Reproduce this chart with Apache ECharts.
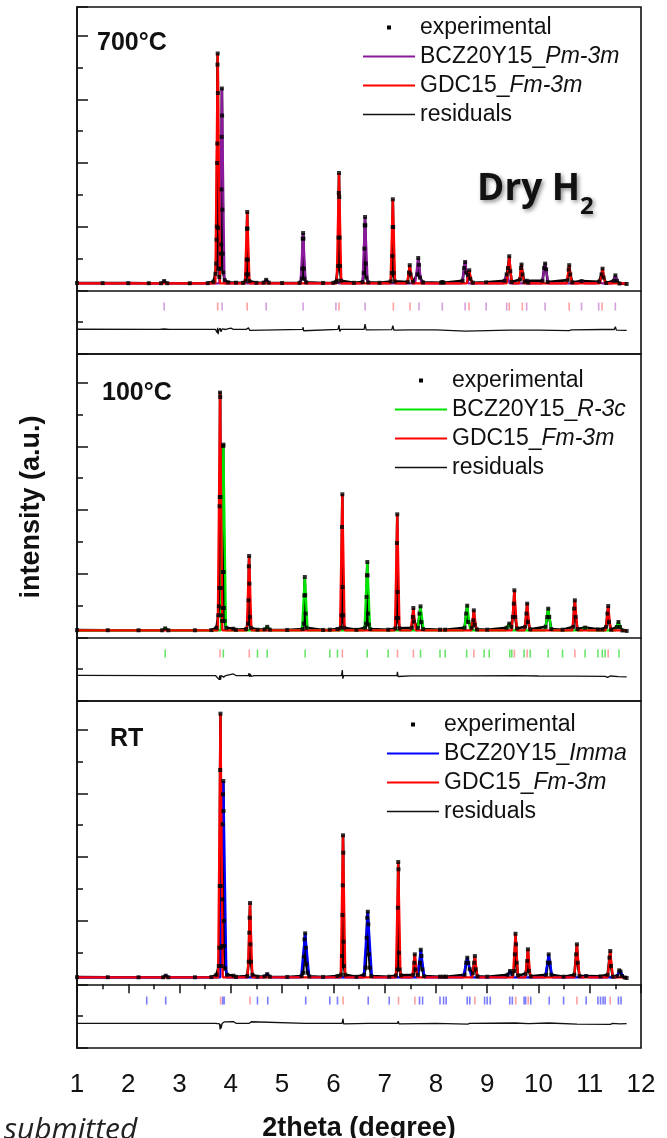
<!DOCTYPE html>
<html>
<head>
<meta charset="utf-8">
<script src="https://cdn.jsdelivr.net/npm/echarts@6/dist/echarts.min.js"></script>
<style>
  html, body { margin: 0; padding: 0; background: #fff; }
  #chart { width: 667px; height: 1138px; }
</style>
</head>
<body>
<div id="chart"></div>
<script>
// ---------- data (2theta in degrees, intensity in arbitrary units) ----------
const scanRange = [1.0, 11.72];
const background = 220;        // flat background level under the fitted phases
const reflectionRow = -510;    // level of the Bragg reflection markers

const xTicks = [1, 2, 3, 4, 5, 6, 7, 8, 9, 10, 11, 12];

const phaseNames = ['BCZ20Y15_Pm-3m', 'BCZ20Y15_R-3c', 'BCZ20Y15_Imma'];
const gdcName = 'GDC15_Fm-3m';
const panelLabels = ['700°C', '100°C', 'RT'];

// ---- 700 °C ----
const obs700 = [
  [1.00,228],[1.50,226],[2.00,225],[2.40,224],[2.64,224],[2.70,292],[2.76,224],[3.20,223],[3.55,226],[3.66,270],
  [3.700,520],[3.715,840],[3.722,1590],[3.728,2000],[3.733,4000],[3.737,4610],[3.740,7090],[3.744,7440],[3.748,6200],[3.752,1960],[3.760,681],
  [3.775,420],[3.795,680],[3.806,1150],[3.812,1440],[3.818,3170],[3.822,4820],[3.826,6340],[3.830,5490],[3.834,2535],[3.840,1153],[3.852,560],[3.88,320],
  [3.95,250],[4.10,240],[4.24,236],[4.29,300],[4.305,503],[4.312,964],[4.316,1938],[4.320,2460],[4.325,1938],[4.330,964],[4.338,503],[4.36,290],
  [4.50,236],[4.64,240],[4.69,330],[4.74,240],[5.00,230],[5.34,235],[5.385,368],[5.395,682],[5.403,1624],[5.410,1800],[5.416,1624],[5.424,682],[5.435,368],[5.47,250],
  [5.80,232],[6.00,236],[6.05,262],[6.085,300],[6.095,763],[6.102,1656],[6.106,3057],[6.110,3685],[6.114,2931],[6.120,1656],[6.128,763],[6.15,300],
  [6.40,236],[6.57,260],[6.595,544],[6.606,1310],[6.612,2042],[6.618,2303],[6.623,2042],[6.630,838],[6.645,400],[6.68,250],
  [6.90,236],[7.12,280],[7.140,544],[7.150,1078],[7.156,1989],[7.160,2860],[7.166,1989],[7.174,544],[7.20,280],
  [7.45,260],[7.475,560],[7.490,790],[7.505,500],[7.55,270],[7.64,500],[7.655,1015],[7.670,800],[7.69,400],[7.75,250],
  [8.10,240],[8.125,262],[8.15,240],[8.52,300],[8.55,700],[8.570,890],[8.59,560],[8.625,480],[8.650,630],[8.67,360],[8.72,240],
  [8.98,252],[9.34,300],[9.38,500],[9.405,700],[9.430,1070],[9.45,600],[9.48,260],[9.64,340],[9.66,700],[9.670,810],[9.69,500],[9.73,270],[9.77,300],[9.80,240],
  [10.08,300],[10.11,700],[10.130,840],[10.15,660],[10.18,260],[10.57,320],[10.59,650],[10.600,790],[10.62,500],[10.66,250],
  [10.84,290],[11.18,270],[11.23,500],[11.250,680],[11.27,400],[11.32,230],[11.47,300],[11.500,470],[11.53,300],[11.58,215],[11.72,200]
];
// [position, peak intensity, half base width]
const bcz700Peaks = [
  [2.70,290,0.06],[3.826,6340,0.05],[4.69,330,0.06],[5.41,1800,0.05],[6.05,262,0.06],[6.618,2303,0.05],
  [7.655,1015,0.06],[8.125,262,0.06],[8.57,890,0.06],[8.98,252,0.06],[9.38,500,0.06],[9.77,300,0.06],
  [10.13,840,0.06],[10.84,290,0.06],[11.18,270,0.06],[11.50,470,0.06]
];
const gdc700Peaks = [
  [3.744,7440,0.045],[4.320,2460,0.045],[6.110,3685,0.045],[7.160,2860,0.045],[7.490,790,0.05],
  [8.650,630,0.05],[9.430,1070,0.05],[9.670,810,0.05],[10.600,790,0.05],[11.250,680,0.05]
];
const bcz700Refl = [2.70,3.83,4.69,5.41,6.05,6.62,7.67,8.125,8.57,8.98,9.38,9.77,10.13,10.84,11.175,11.50];
const gdc700Refl = [3.744,4.32,6.11,7.17,7.495,8.646,9.43,9.686,10.60,11.24];
const res700 = [
  [1.0,-1222],[2.6,-1225],[2.7,-1215],[2.8,-1225],[3.70,-1225],[3.735,-1330],[3.742,-1180],[3.752,-1380],[3.765,-1260],
  [3.79,-1190],[3.81,-1300],[3.83,-1210],[3.85,-1260],[3.90,-1230],[4.00,-1190],[4.05,-1225],[4.30,-1225],[4.315,-1170],
  [4.325,-1260],[4.345,-1180],[4.37,-1260],[4.40,-1225],[5.40,-1225],[5.41,-1160],[5.42,-1270],[5.44,-1225],[6.09,-1225],
  [6.11,-1090],[6.125,-1290],[6.15,-1225],[6.60,-1225],[6.618,-1060],[6.64,-1245],[7.14,-1235],[7.16,-1110],[7.18,-1250],
  [7.50,-1240],[8.0,-1245],[8.57,-1280],[8.60,-1245],[9.43,-1250],[10.0,-1250],[10.60,-1265],[10.64,-1245],[11.25,-1230],
  [11.48,-1230],[11.50,-1140],[11.52,-1250],[11.72,-1255]
];

// ---- 100 °C ----
const obs100 = [
  [1.00,225],[1.60,224],[2.20,222],[2.66,222],[2.72,280],[2.78,222],[3.30,222],[3.62,228],[3.72,300],
  [3.755,691],[3.768,974],[3.775,1549],[3.782,4116],[3.786,4408],[3.790,7688],[3.793,7550],[3.798,4408],[3.805,1549],[3.815,691],
  [3.828,512],[3.838,921],[3.846,2052],[3.852,6010],[3.855,6054],[3.859,2052],[3.866,921],[3.878,512],[3.91,300],[4.05,270],[4.10,235],
  [4.30,260],[4.335,430],[4.345,1162],[4.352,2230],[4.357,2555],[4.362,1687],[4.370,638],[4.39,300],[4.52,240],[4.66,250],[4.71,330],[4.76,240],
  [5.10,232],[5.40,260],[5.425,430],[5.435,1320],[5.443,1895],[5.450,1320],[5.458,745],[5.475,300],
  [5.80,232],[5.93,240],[6.08,262],[6.145,300],[6.160,691],[6.168,3466],[6.175,4493],[6.180,1580],[6.190,691],[6.21,300],
  [6.45,236],[6.62,300],[6.638,430],[6.648,1266],[6.655,1948],[6.662,2366],[6.668,1948],[6.675,745],[6.69,400],[6.72,260],
  [7.07,240],[7.21,280],[7.232,606],[7.240,2963],[7.246,3864],[7.252,1423],[7.262,606],[7.29,280],
  [7.53,300],[7.550,638],[7.560,921],[7.570,500],[7.65,300],[7.68,745],[7.700,974],[7.715,481],[7.75,260],
  [8.08,240],[8.18,240],[8.56,300],[8.59,745],[8.610,995],[8.630,481],[8.70,300],[8.730,534],[8.740,848],[8.755,400],[8.80,250],
  [9.00,240],[9.38,300],[9.430,430],[9.47,330],[9.500,638],[9.520,1058],[9.530,1477],[9.545,638],[9.58,280],
  [9.74,330],[9.765,745],[9.780,1058],[9.795,481],[9.84,250],[10.14,330],[10.17,638],[10.190,900],[10.21,638],[10.25,260],
  [10.47,240],[10.68,330],[10.695,900],[10.710,1162],[10.725,638],[10.76,260],[10.91,305],
  [11.16,250],[11.245,250],[11.32,330],[11.345,745],[11.360,983],[11.375,481],[11.42,240],[11.53,324],[11.56,481],[11.59,324],[11.64,215],[11.72,200]
];
const bcz100Peaks = [
  [2.72,280,0.06],[3.855,6054,0.05],[4.71,330,0.06],[5.443,1895,0.055],[6.662,2366,0.055],[7.70,974,0.06],
  [8.61,995,0.06],[9.43,430,0.06],[10.19,900,0.06],[10.91,305,0.06],[11.56,481,0.06]
];
const gdc100Peaks = [
  [3.790,7688,0.045],[4.357,2555,0.045],[6.175,4493,0.045],[7.246,3864,0.045],[7.56,921,0.05],
  [8.74,848,0.05],[9.53,1477,0.05],[9.78,1058,0.05],[10.71,1162,0.05],[11.36,983,0.05]
];
const bcz100Refl = [2.72,3.854,4.52,4.71,5.45,5.93,6.08,6.66,7.07,7.70,8.08,8.18,8.60,8.94,9.04,9.44,9.48,9.72,9.84,10.19,10.47,10.91,11.16,11.245,11.30,11.57];
const gdc100Refl = [3.79,4.36,6.175,7.25,7.56,8.74,9.53,9.78,10.71,11.36];
const res100 = [
  [1.0,-1195],[2.72,-1200],[3.70,-1200],[3.775,-1330],[3.782,-1200],[3.788,-1340],[3.795,-1190],[3.80,-1330],[3.81,-1200],
  [3.86,-1250],[3.90,-1200],[4.05,-1150],[4.10,-1200],[4.34,-1200],[4.355,-1130],[4.365,-1240],[4.38,-1150],[4.40,-1230],
  [4.45,-1200],[5.44,-1200],[5.45,-1240],[5.47,-1200],[6.16,-1200],[6.175,-1030],[6.185,-1300],[6.20,-1200],[6.66,-1200],
  [6.67,-1150],[6.69,-1210],[7.24,-1200],[7.25,-1080],[7.26,-1230],[7.5,-1210],[8.6,-1210],[9.53,-1200],[10.0,-1215],
  [10.71,-1220],[11.3,-1225],[11.35,-1260],[11.40,-1215],[11.56,-1235],[11.72,-1240]
];

// ---- room temperature ----
const obsRT = [
  [1.00,225],[1.60,224],[2.20,222],[2.68,222],[2.73,270],[2.78,222],[3.30,222],[3.62,228],[3.72,300],
  [3.765,575],[3.775,1150],[3.785,3088],[3.792,6733],[3.798,8502],[3.803,3088],[3.812,1150],[3.822,575],
  [3.830,1203],[3.836,2670],[3.842,5027],[3.848,5969],[3.854,6387],[3.858,5445],[3.864,1989],[3.874,1203],[3.89,500],[3.93,300],[4.05,270],[4.10,235],
  [4.32,260],[4.350,710],[4.360,1621],[4.367,2092],[4.375,2554],[4.381,1257],[4.392,710],[4.42,300],[4.52,240],[4.66,250],[4.71,320],[4.76,240],
  [5.10,232],[5.38,260],[5.410,364],[5.425,867],[5.438,1414],[5.450,1602],[5.462,1150],[5.475,628],[5.495,364],[5.53,250],
  [5.80,232],[6.08,262],[6.150,300],[6.170,889],[6.178,2177],[6.183,3110],[6.188,4681],[6.193,4134],[6.198,1338],[6.206,575],[6.23,300],
  [6.45,236],[6.60,300],[6.630,522],[6.648,1464],[6.660,2092],[6.672,2281],[6.682,1885],[6.695,943],[6.712,522],[6.74,260],
  [7.09,240],[7.22,280],[7.248,471],[7.258,2407],[7.265,3842],[7.270,3613],[7.278,993],[7.29,471],[7.32,280],
  [7.56,300],[7.578,679],[7.588,942],[7.598,471],[7.65,300],[7.690,679],[7.705,1087],[7.718,889],[7.735,471],[7.77,260],
  [8.08,240],[8.15,240],[8.20,240],[8.56,300],[8.590,679],[8.612,836],[8.632,679],[8.66,471],[8.72,350],[8.745,679],[8.760,889],[8.775,471],[8.81,250],
  [9.00,240],[9.40,300],[9.445,418],[9.49,330],[9.525,418],[9.540,942],[9.552,1590],[9.563,1257],[9.575,679],[9.60,280],
  [9.75,330],[9.782,732],[9.795,1100],[9.810,418],[9.85,250],[10.15,300],[10.183,679],[10.200,942],[10.220,679],[10.25,300],
  [10.49,240],[10.70,300],[10.735,942],[10.750,1257],[10.765,679],[10.80,260],[10.93,261],
  [11.21,250],[11.35,300],[11.385,836],[11.400,1047],[11.415,575],[11.45,240],[11.54,261],[11.575,440],[11.600,400],[11.63,261],[11.68,215],[11.72,200]
];
const bczRTPeaks = [
  [2.73,270,0.06],[3.854,6387,0.06],[4.71,320,0.06],[5.45,1602,0.08],[6.672,2281,0.08],[7.705,1087,0.07],
  [8.612,836,0.08],[9.445,418,0.06],[10.20,942,0.07],[10.93,261,0.06],[11.59,440,0.07]
];
const gdcRTPeaks = [
  [3.798,8502,0.045],[4.375,2554,0.045],[6.188,4681,0.045],[7.265,3842,0.045],[7.588,942,0.05],
  [8.76,889,0.05],[9.552,1590,0.05],[9.795,1100,0.05],[10.75,1257,0.05],[11.40,1047,0.05]
];
const bczRTRefl = [2.36,2.73,3.84,3.87,4.52,4.72,5.46,5.93,6.08,6.68,7.09,7.68,7.74,8.08,8.15,8.20,8.61,8.66,8.95,9.00,9.06,
  9.44,9.49,9.72,9.75,9.85,10.21,10.49,10.93,11.16,11.21,11.26,11.30,11.56,11.61];
const gdcRTRefl = [3.80,4.375,6.19,7.27,7.59,8.76,9.557,9.80,10.75,11.40];
const resRT = [
  [1.0,-1225],[3.70,-1225],[3.78,-1240],[3.792,-1420],[3.80,-1260],[3.81,-1380],[3.83,-1230],[3.87,-1180],[3.90,-1230],
  [4.05,-1170],[4.10,-1225],[4.36,-1225],[4.37,-1170],[4.385,-1260],[4.40,-1175],[4.43,-1225],[5.45,-1225],[5.46,-1250],
  [5.48,-1225],[6.17,-1225],[6.188,-1080],[6.20,-1240],[6.22,-1225],[6.68,-1225],[6.69,-1170],[6.71,-1235],[7.25,-1225],
  [7.265,-1160],[7.28,-1240],[8.0,-1225],[8.62,-1250],[8.66,-1225],[9.55,-1215],[9.80,-1235],[10.2,-1215],[10.75,-1250],
  [11.40,-1260],[11.45,-1225],[11.58,-1240],[11.72,-1235]
];

// ---------- layout and styles ----------
const FONT = '"Liberation Sans", Arial, sans-serif';
const gridTops = [7, 354, 701];
const gridHeight = 347;
const legendPos = [[363, 16], [395, 369], [387, 713]];
const labelPos = [[97, 43], [102, 393], [110, 739]];
const bczLineColors = ['#8a1a9b', '#00e600', '#0000ff'];
const bczTickColors = ['#c98ad3', '#44dd44', '#5a5aff'];
const gdcLineColor = '#ff0000';
const gdcTickColor = '#ff8a8a';

const obsSets = [obs700, obs100, obsRT];
const bczPeakSets = [bcz700Peaks, bcz100Peaks, bczRTPeaks];
const gdcPeakSets = [gdc700Peaks, gdc100Peaks, gdcRTPeaks];
const bczReflSets = [bcz700Refl, bcz100Refl, bczRTRefl];
const gdcReflSets = [gdc700Refl, gdc100Refl, gdcRTRefl];
const resSets = [res700, res100, resRT];

// polyline of a fitted phase: background with one peak outline per reflection
function phaseProfile(peaks) {
  const pts = [[scanRange[0], background]];
  peaks.forEach(([x, h, w]) => {
    pts.push([x - w, background], [x, h], [x + w, background]);
  });
  pts.push([scanRange[1], background]);
  return pts;
}
function markers(list) {
  return list.map(x => [x, reflectionRow]);
}

// legend glyphs: a small square for the measured points, plain strokes for the curves
const squareIcon = 'path://M0,0L1,0L1,1L0,1Z';
const thickStroke = 'path://M0,0L52,0L52,2L0,2Z';
const thinStroke = 'path://M0,0L52,0L52,1.4L0,1.4Z';

const grids = [], xAxes = [], yAxes = [], series = [], legends = [];
for (let i = 0; i < 3; i++) {
  const last = i === 2;
  grids.push({
    left: 77, right: 26, top: gridTops[i], height: gridHeight,
    show: true, borderColor: '#111', borderWidth: 1.6, backgroundColor: 'transparent',
    outerBoundsMode: 'none', containLabel: false
  });
  xAxes.push({
    type: 'value', gridIndex: i, min: xTicks[0], max: xTicks[xTicks.length - 1], interval: 1,
    axisLine: { show: true, lineStyle: { color: '#111', width: 1.6 } },
    axisTick: { show: last, inside: false, length: 9, lineStyle: { color: '#111', width: 1.5 } },
    minorTick: { show: last, splitNumber: 2, length: 5, lineStyle: { color: '#111', width: 1.5 } },
    axisLabel: { show: last, fontSize: 26, fontFamily: FONT, color: '#111', margin: 24,
      showMinLabel: true, showMaxLabel: true },
    splitLine: { show: false },
    name: last ? '2theta (degree)' : '',
    nameLocation: 'middle', nameGap: 67,
    nameTextStyle: { fontSize: 27, fontWeight: 'bold', fontFamily: FONT, color: '#111' }
  });
  yAxes.push({
    type: 'value', gridIndex: i, min: -2000, max: 8900, interval: 2000,
    axisLine: { show: true, lineStyle: { color: '#111', width: 1.6 } },
    axisTick: { show: true, inside: true, length: 11, lineStyle: { color: '#111', width: 1.5 } },
    minorTick: { show: true, splitNumber: 2, length: 6, lineStyle: { color: '#111', width: 1.5 } },
    axisLabel: { show: false },
    splitLine: { show: false }
  });

  const bczName = phaseNames[i];
  const obs = obsSets[i];
  series.push(
    { type: 'line', name: 'experimental', xAxisIndex: i, yAxisIndex: i, data: obs,
      symbol: 'none', lineStyle: { color: '#000', width: 2.6 }, itemStyle: { color: '#000' }, z: 2 },
    { type: 'line', name: bczName, xAxisIndex: i, yAxisIndex: i, data: phaseProfile(bczPeakSets[i]),
      symbol: 'none', lineStyle: { color: bczLineColors[i], width: 2.3 }, itemStyle: { color: bczLineColors[i] }, z: 3 },
    { type: 'line', name: gdcName, xAxisIndex: i, yAxisIndex: i, data: phaseProfile(gdcPeakSets[i]),
      symbol: 'none', lineStyle: { color: gdcLineColor, width: 2.3 }, itemStyle: { color: gdcLineColor }, z: 4 },
    { type: 'scatter', name: 'experimental', xAxisIndex: i, yAxisIndex: i, data: obs,
      symbol: 'rect', symbolSize: 4, itemStyle: { color: '#000' }, z: 5 },
    { type: 'scatter', name: bczName, xAxisIndex: i, yAxisIndex: i, data: markers(bczReflSets[i]),
      symbol: 'rect', symbolSize: [1.6, 8], itemStyle: { color: bczTickColors[i] }, z: 3 },
    { type: 'scatter', name: gdcName, xAxisIndex: i, yAxisIndex: i, data: markers(gdcReflSets[i]),
      symbol: 'rect', symbolSize: [1.6, 8], itemStyle: { color: gdcTickColor }, z: 3 },
    { type: 'line', name: 'residuals', xAxisIndex: i, yAxisIndex: i, data: resSets[i],
      symbol: 'none', lineStyle: { color: '#111', width: 1.3 }, itemStyle: { color: '#111' }, z: 3 }
  );

  legends.push({
    orient: 'vertical', left: legendPos[i][0], top: legendPos[i][1], padding: 0,
    itemWidth: 52, itemHeight: 4, itemGap: 6, symbolKeepAspect: true,
    selectedMode: false,
    data: [
      { name: 'experimental', icon: squareIcon },
      { name: bczName, icon: thickStroke },
      { name: gdcName, icon: thickStroke },
      { name: 'residuals', icon: thinStroke }
    ],
    formatter: name => {
      const k = name.indexOf('_');
      return k < 0 ? name : '{n|' + name.slice(0, k + 1) + '}{i|' + name.slice(k + 1) + '}';
    },
    textStyle: {
      fontSize: 23, fontFamily: FONT, color: '#111',
      rich: {
        n: { fontSize: 23, fontFamily: FONT, color: '#111' },
        i: { fontSize: 23, fontFamily: FONT, color: '#111', fontStyle: 'italic' }
      }
    }
  });
}

const graphics = [
  { type: 'text', x: 32, y: 507, rotation: Math.PI / 2, z: 10,
    style: { text: 'intensity (a.u.)', fontSize: 27, fontWeight: 'bold', fontFamily: FONT, fill: '#111',
      align: 'center', verticalAlign: 'middle', textAlign: 'center', textVerticalAlign: 'middle' } },
  { type: 'text', x: 477, y: 189, z: 10,
    style: { text: 'Dry H', fontSize: 37, fontWeight: 'bold', fontFamily: '"Open Sans", sans-serif', fill: '#111',
      align: 'left', verticalAlign: 'middle',
      textShadowColor: 'rgba(0,0,0,0.45)', textShadowBlur: 4, textShadowOffsetX: 2, textShadowOffsetY: 2 } },
  { type: 'text', x: 580, y: 207, z: 10,
    style: { text: '2', fontSize: 24, fontWeight: 'bold', fontFamily: '"Open Sans", sans-serif', fill: '#111',
      align: 'left', verticalAlign: 'middle',
      textShadowColor: 'rgba(0,0,0,0.45)', textShadowBlur: 4, textShadowOffsetX: 2, textShadowOffsetY: 2 } },
  { type: 'text', x: 4, y: 1115, z: 10,
    style: { text: 'submitted', fontSize: 30, fontStyle: 'italic', fontFamily: '"Open Sans", sans-serif', fill: '#222',
      align: 'left', verticalAlign: 'top' } }
];
panelLabels.forEach((t, i) => {
  graphics.push({ type: 'text', x: labelPos[i][0], y: labelPos[i][1], z: 10,
    style: { text: t, fontSize: 25, fontWeight: 'bold', fontFamily: FONT, fill: '#111',
      align: 'left', verticalAlign: 'middle' } });
});

const chart = echarts.init(document.getElementById('chart'), null, { renderer: 'canvas' });
chart.setOption({
  animation: false,
  backgroundColor: '#fff',
  textStyle: { fontFamily: FONT },
  grid: grids,
  xAxis: xAxes,
  yAxis: yAxes,
  legend: legends,
  series: series,
  graphic: graphics
});
</script>
</body>
</html>
